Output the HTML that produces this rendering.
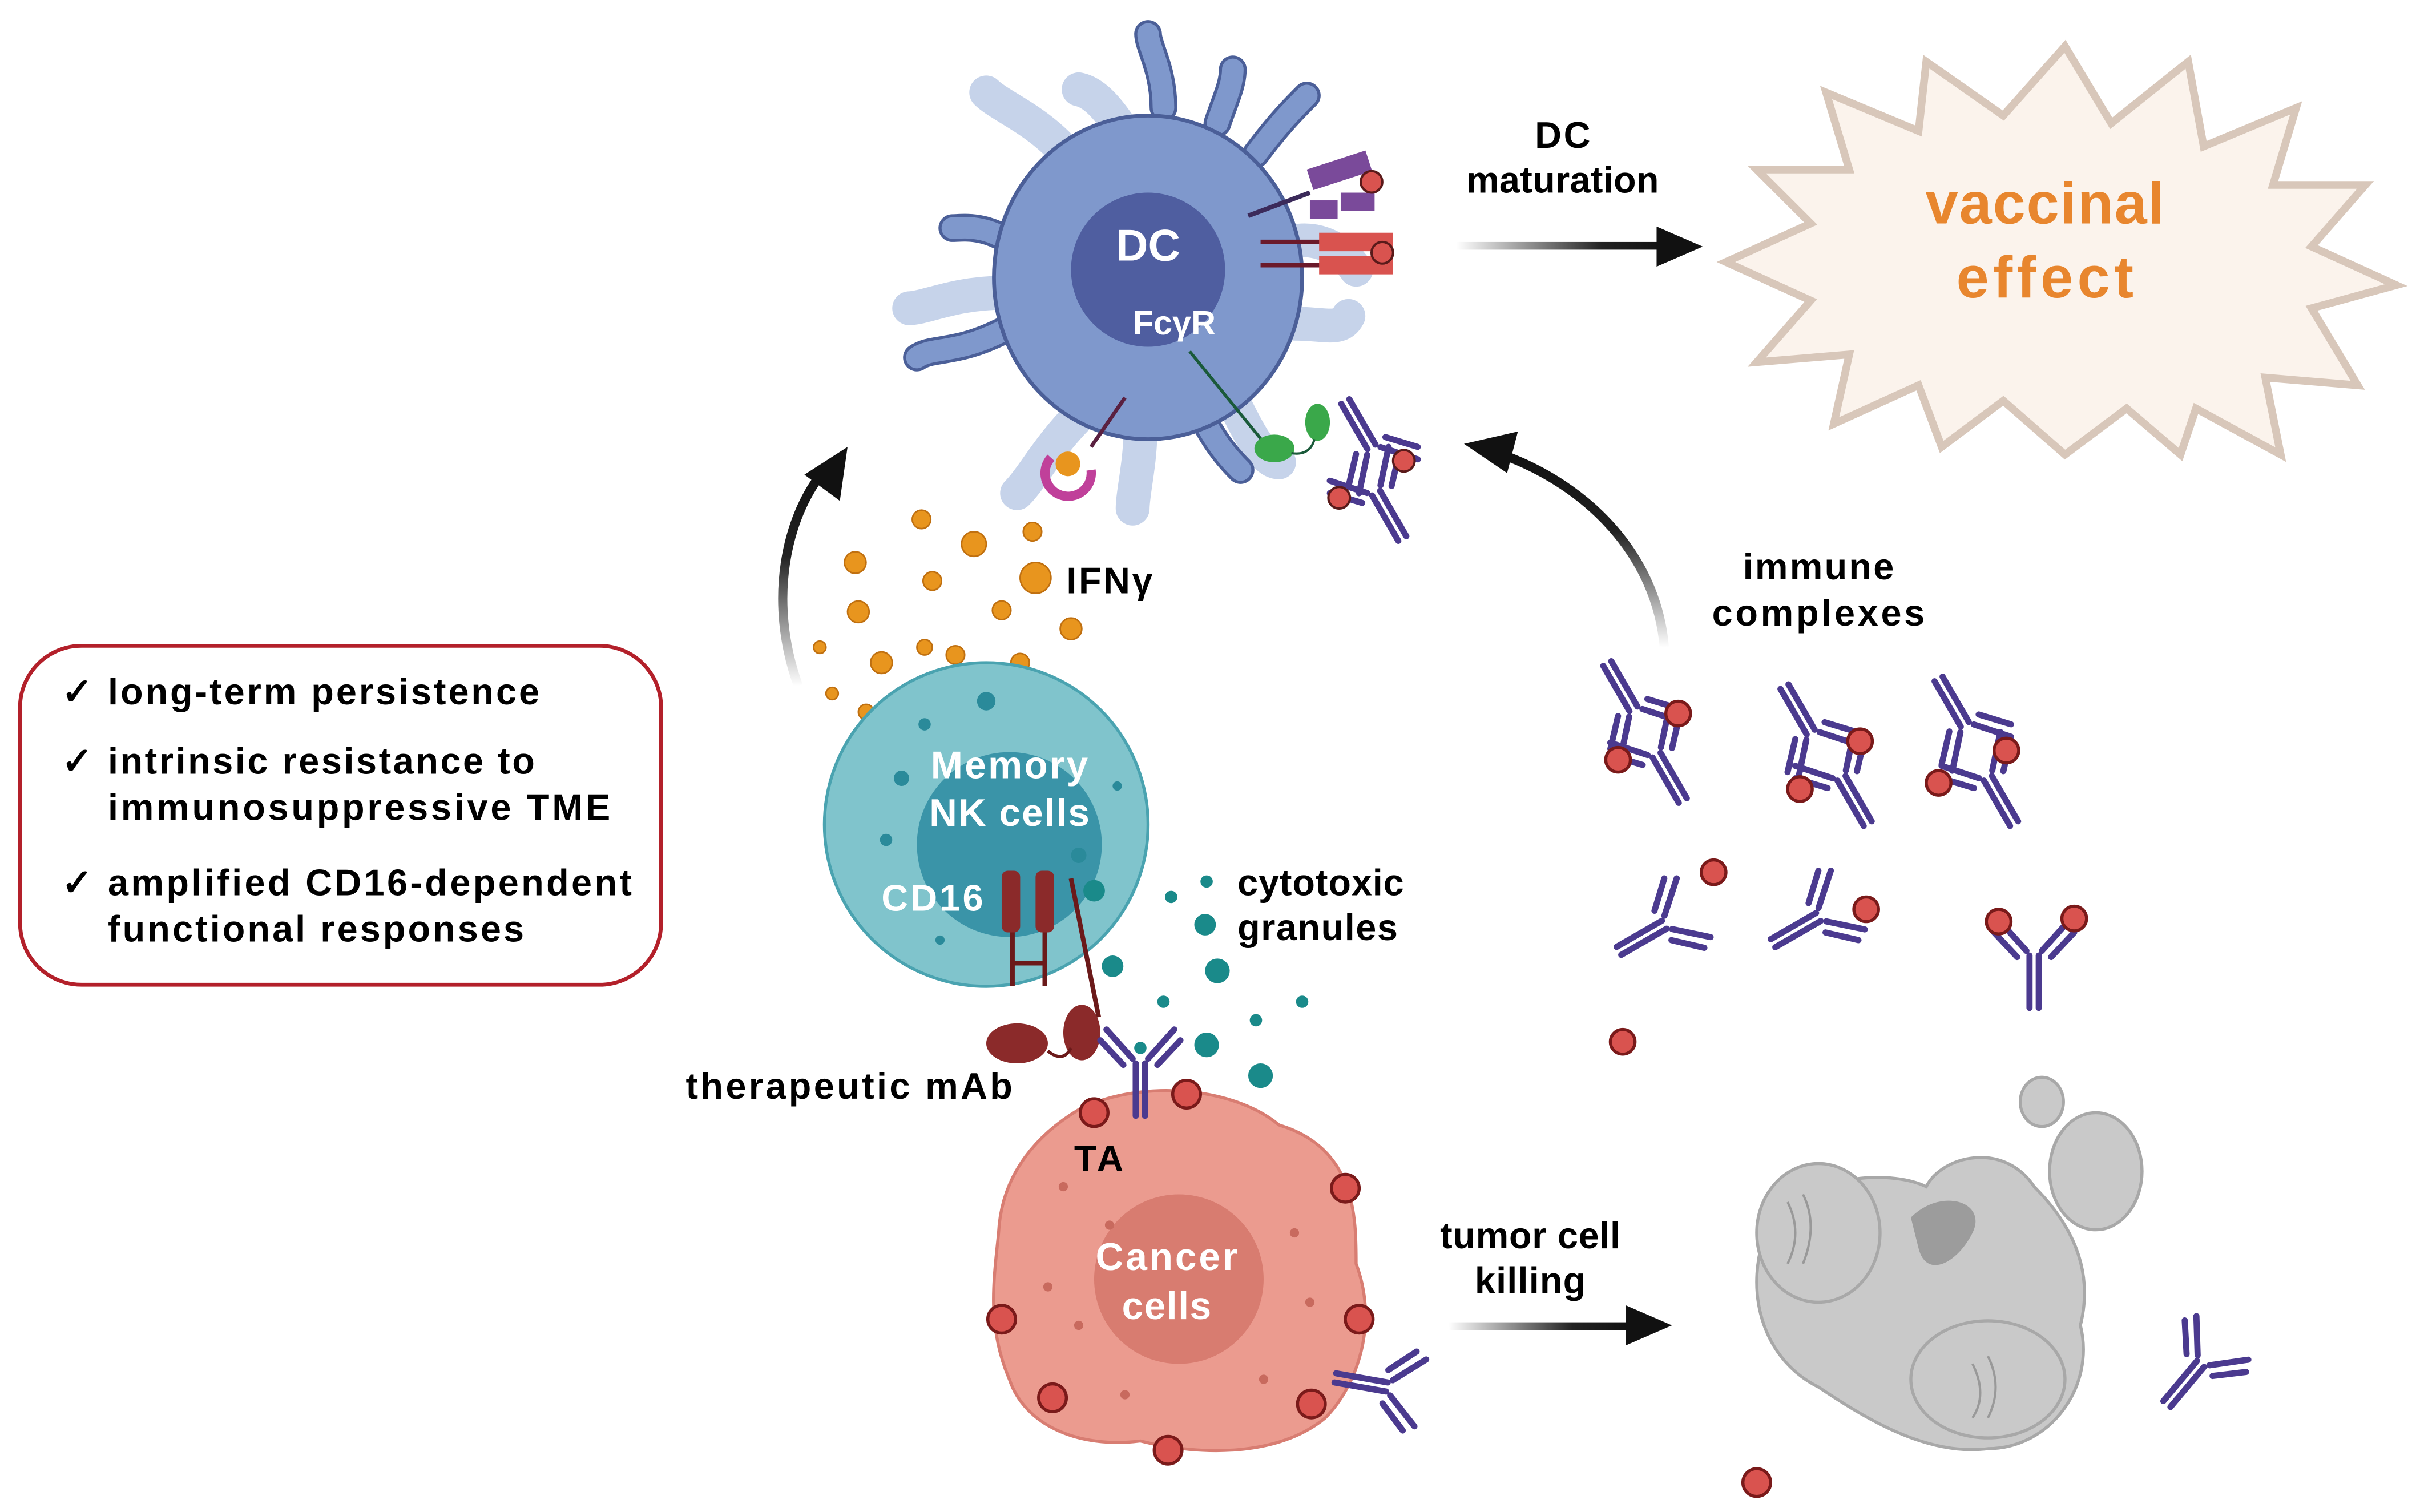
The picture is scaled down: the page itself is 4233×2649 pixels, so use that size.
<!DOCTYPE html>
<html><head><meta charset="utf-8"><style>
html,body{margin:0;padding:0;background:#fff}
svg{display:block}
text{font-family:"Liberation Sans",sans-serif;font-weight:bold}
</style></head><body>
<svg width="4233" height="2649" viewBox="0 0 1567.8 981.1" xmlns="http://www.w3.org/2000/svg">
<defs>
<linearGradient id="gr" x1="0" x2="1" y1="0" y2="0"><stop offset="0" stop-color="#fff"/><stop offset="0.7" stop-color="#222"/><stop offset="1" stop-color="#111"/></linearGradient>
<linearGradient id="gv" x1="0" x2="0" y1="1" y2="0"><stop offset="0" stop-color="#fff"/><stop offset="0.6" stop-color="#222"/><stop offset="1" stop-color="#111"/></linearGradient>
<g id="ab" fill="none" stroke="#4b3a8f" stroke-width="4" stroke-linecap="round">
<path d="M-3,0 V34 M3,0 V34 M-5,-3 L-22,-22 M-11,1 L-26,-15 M5,-3 L22,-22 M11,1 L26,-15"/>
</g>
</defs>

<g fill="none" stroke="#c6d3ea" stroke-width="22" stroke-linecap="round">
<path d="M700,110 C680,80 650,70 640,60"/>
<path d="M735,95 C720,70 710,60 700,58"/>
<path d="M650,190 C620,190 600,200 590,200"/>
<path d="M830,160 C850,150 870,160 880,175"/>
<path d="M840,210 C860,210 870,215 875,205"/>
<path d="M700,270 C680,290 670,310 660,320"/>
<path d="M740,280 C740,300 735,320 735,330"/>
<path d="M800,260 C810,280 820,300 830,300"/>
</g>
<g fill="#7f98cc" stroke="#4b5f98" stroke-width="2.5">
<g stroke-linecap="round" stroke-width="18" stroke="#4b5f98" fill="none">
<path d="M755,70 C755,45 745,30 745,22"/>
<path d="M790,80 C795,65 800,55 800,45"/>
<path d="M815,100 C830,80 840,70 848,62"/>
<path d="M650,215 C620,230 605,225 595,232"/>
<path d="M660,160 C640,145 625,148 618,148"/>
<path d="M780,270 C790,290 800,300 805,305"/>
</g>
<g stroke-linecap="round" stroke-width="14" stroke="#7f98cc" fill="none">
<path d="M755,70 C755,45 745,30 745,22"/>
<path d="M790,80 C795,65 800,55 800,45"/>
<path d="M815,100 C830,80 840,70 848,62"/>
<path d="M650,215 C620,230 605,225 595,232"/>
<path d="M660,160 C640,145 625,148 618,148"/>
<path d="M780,270 C790,290 800,300 805,305"/>
</g>
<ellipse cx="745" cy="180" rx="100" ry="105"/>
</g>
<circle cx="745" cy="175" r="50" fill="#4f5ea0"/>
<text x="745" y="169" font-size="29" fill="#fff" text-anchor="middle">DC</text>
<text x="762" y="217" font-size="22" fill="#fff" text-anchor="middle">FcγR</text>
<line x1="810" y1="140" x2="850" y2="125" stroke="#3b2a5a" stroke-width="3"/>
<rect x="848" y="110" width="40" height="14" fill="#7a4a9a" transform="rotate(-18 848 110)"/>
<rect x="850" y="130" width="18" height="12" fill="#7a4a9a"/><rect x="870" y="125" width="22" height="12" fill="#7a4a9a"/>
<circle cx="890" cy="118" r="7" fill="#d9534f" stroke="#5a1a1a" stroke-width="1.5"/>
<line x1="818" y1="157" x2="858" y2="157" stroke="#6b1a2a" stroke-width="3"/>
<line x1="818" y1="172" x2="858" y2="172" stroke="#6b1a2a" stroke-width="3"/>
<rect x="856" y="151" width="48" height="12" fill="#d9534f"/><rect x="856" y="166" width="48" height="12" fill="#d9534f"/>
<circle cx="897" cy="164" r="7" fill="#d9534f" stroke="#5a1a1a" stroke-width="1.5"/>
<line x1="730" y1="258" x2="708" y2="290" stroke="#5a2040" stroke-width="2.5"/>
<path d="M682,297 A15,15 0 1,0 708,305" fill="none" stroke="#c0409a" stroke-width="6"/>
<circle cx="693" cy="301" r="8" fill="#e8951e"/>
<line x1="772" y1="228" x2="820" y2="287" stroke="#1a5a3a" stroke-width="2"/>
<ellipse cx="827" cy="291" rx="13" ry="9" fill="#3aa84a"/>
<ellipse cx="855" cy="274" rx="8" ry="12" fill="#3aa84a"/>
<path d="M838,294 Q850,296 853,285" fill="none" stroke="#1a5a3a" stroke-width="1.5"/>
<use href="#ab" transform="translate(890,290) rotate(150)"/>
<use href="#ab" transform="translate(893,320) rotate(-30)"/>
<circle cx="911" cy="299" r="7" fill="#d9534f" stroke="#5a1a1a" stroke-width="1.5"/>
<circle cx="869" cy="323" r="7" fill="#d9534f" stroke="#5a1a1a" stroke-width="1.5"/>

<rect x="945" y="157" width="135" height="5" fill="url(#gr)"/>
<polygon points="1075,147 1105,160 1075,173" fill="#111"/>
<text x="1014" y="96" font-size="24" text-anchor="middle" textLength="36">DC</text>
<text x="1014" y="125" font-size="24" text-anchor="middle" textLength="125">maturation</text>

<polygon fill="#fbf3ec" stroke="#d8c7ba" stroke-width="5" points="1340,30 1370,80 1420,40 1430,95 1490,70 1475,120 1535,120 1500,160 1555,185 1500,200 1530,250 1470,245 1480,295 1425,265 1415,295 1380,265 1340,295 1300,260 1260,290 1245,250 1190,275 1200,230 1140,235 1175,195 1120,170 1175,145 1140,110 1200,110 1185,60 1245,85 1250,40 1300,75"/>
<text x="1327" y="145" font-size="38" fill="#e8862e" text-anchor="middle" textLength="155">vaccinal</text>
<text x="1327" y="193" font-size="38" fill="#e8862e" text-anchor="middle" textLength="115">effect</text>

<path d="M518,445 C498,390 510,335 535,305" fill="none" stroke="url(#gv)" stroke-width="6"/>
<polygon points="550,290 545,325 522,308" fill="#111"/>
<path d="M1080,420 C1075,360 1030,315 975,295" fill="none" stroke="url(#gv)" stroke-width="6"/>
<polygon points="950,288 985,280 978,307" fill="#111"/>

<g fill="#e8951e" stroke="#c07010" stroke-width="1">
<circle cx="598" cy="337" r="6"/><circle cx="632" cy="353" r="8"/><circle cx="670" cy="345" r="6"/>
<circle cx="555" cy="365" r="7"/><circle cx="605" cy="377" r="6"/><circle cx="672" cy="375" r="10"/>
<circle cx="557" cy="397" r="7"/><circle cx="650" cy="396" r="6"/><circle cx="695" cy="408" r="7"/>
<circle cx="532" cy="420" r="4"/><circle cx="600" cy="420" r="5"/><circle cx="620" cy="425" r="6"/>
<circle cx="572" cy="430" r="7"/><circle cx="662" cy="430" r="6"/><circle cx="540" cy="450" r="4"/>
<circle cx="610" cy="455" r="4"/><circle cx="562" cy="462" r="5"/>
</g>
<text x="692" y="385" font-size="24" textLength="56">IFNγ</text>

<circle cx="640" cy="535" r="105" fill="#80c4cc" stroke="#4aa3b0" stroke-width="2"/>
<circle cx="655" cy="548" r="60" fill="#3a94a8"/>
<g fill="#2a8a9a"><circle cx="585" cy="505" r="5"/><circle cx="600" cy="470" r="4"/><circle cx="640" cy="455" r="6"/><circle cx="575" cy="545" r="4"/><circle cx="700" cy="555" r="5"/><circle cx="725" cy="510" r="3"/><circle cx="610" cy="610" r="3"/></g>
<text x="655" y="505" font-size="25" fill="#fff" text-anchor="middle" textLength="102">Memory</text>
<text x="655" y="536" font-size="25" fill="#fff" text-anchor="middle" textLength="104">NK cells</text>
<text x="605" y="591" font-size="24" fill="#fff" text-anchor="middle" textLength="66">CD16</text>
<rect x="650" y="565" width="12" height="40" rx="4" fill="#8b2a2a"/><rect x="672" y="565" width="12" height="40" rx="4" fill="#8b2a2a"/>
<path d="M657,605 V640 M678,605 V640 M657,625 H678" stroke="#6b1a1a" stroke-width="3" fill="none"/>
<line x1="695" y1="570" x2="713" y2="660" stroke="#6b1a1a" stroke-width="3"/>
<ellipse cx="660" cy="677" rx="20" ry="13" fill="#8b2a2a"/>
<ellipse cx="702" cy="670" rx="12" ry="18" fill="#8b2a2a"/>
<path d="M680,682 Q690,690 695,680" stroke="#6b1a1a" stroke-width="2" fill="none"/>
<text x="445" y="713" font-size="24" textLength="212">therapeutic mAb</text>

<g fill="#1a8a8a"><circle cx="710" cy="578" r="7"/><circle cx="760" cy="582" r="4"/><circle cx="783" cy="572" r="4"/><circle cx="782" cy="600" r="7"/><circle cx="722" cy="627" r="7"/><circle cx="790" cy="630" r="8"/><circle cx="755" cy="650" r="4"/><circle cx="815" cy="662" r="4"/><circle cx="845" cy="650" r="4"/><circle cx="740" cy="680" r="4"/><circle cx="783" cy="678" r="8"/><circle cx="818" cy="698" r="8"/><circle cx="800" cy="720" r="4"/><circle cx="822" cy="742" r="8"/><circle cx="772" cy="748" r="4"/><circle cx="790" cy="748" r="4"/><circle cx="808" cy="770" r="7"/><circle cx="833" cy="772" r="4"/></g>
<text x="803" y="581" font-size="24" textLength="108">cytotoxic</text>
<text x="803" y="610" font-size="24" textLength="104">granules</text>

<path d="M700,720 C740,700 800,705 830,730 C880,745 880,790 880,820 C895,860 880,900 860,920 C830,945 780,945 740,935 C700,940 665,925 655,895 C640,860 645,830 648,800 C650,760 675,735 700,720 Z" fill="#eb9b8f" stroke="#d87d72" stroke-width="2"/>
<circle cx="765" cy="830" r="55" fill="#d87c70"/>
<g fill="#c86a5e"><circle cx="690" cy="770" r="3"/><circle cx="720" cy="795" r="3"/><circle cx="700" cy="860" r="3"/><circle cx="730" cy="905" r="3"/><circle cx="840" cy="800" r="3"/><circle cx="820" cy="895" r="3"/><circle cx="680" cy="835" r="3"/><circle cx="850" cy="845" r="3"/></g>
<text x="757" y="824" font-size="25" fill="#fff" text-anchor="middle" textLength="92">Cancer</text>
<text x="757" y="856" font-size="25" fill="#fff" text-anchor="middle" textLength="58">cells</text>
<g fill="#d9534f" stroke="#7a1a1a" stroke-width="2">
<circle cx="710" cy="722" r="9"/><circle cx="770" cy="710" r="9"/><circle cx="873" cy="771" r="9"/><circle cx="650" cy="856" r="9"/><circle cx="882" cy="856" r="9"/><circle cx="683" cy="907" r="9"/><circle cx="851" cy="911" r="9"/><circle cx="758" cy="941" r="9"/>
</g>
<use href="#ab" transform="translate(740,690) rotate(0)"/>
<use href="#ab" transform="translate(900,900) rotate(100)"/>
<text x="697" y="760" font-size="24" textLength="32">TA</text>

<rect x="940" y="858" width="115" height="5" fill="url(#gr)"/>
<polygon points="1055,847 1085,860 1055,873" fill="#111"/>
<text x="993" y="810" font-size="24" text-anchor="middle" textLength="117">tumor cell</text>
<text x="993" y="839" font-size="24" text-anchor="middle" textLength="72">killing</text>

<g fill="#c9c9c9" stroke="#a8a8a8" stroke-width="2">
<ellipse cx="1325" cy="715" rx="14" ry="16"/>
<ellipse cx="1360" cy="760" rx="30" ry="38"/>
<path d="M1150,790 C1180,760 1230,760 1250,770 C1260,750 1300,740 1320,770 C1340,790 1360,820 1350,860 C1360,900 1330,940 1290,940 C1250,945 1210,920 1180,900 C1140,880 1130,830 1150,790 Z"/>
<ellipse cx="1180" cy="800" rx="40" ry="45"/>
<ellipse cx="1290" cy="895" rx="50" ry="38"/>
</g>
<path d="M1240,790 C1260,770 1290,780 1280,800 C1270,820 1250,830 1245,810 Z" fill="#9c9c9c"/>
<g fill="none" stroke="#999" stroke-width="1.5"><path d="M1160,780 q10,20 0,40 M1170,775 q10,20 0,45 M1280,885 q10,20 0,35 M1290,880 q10,20 0,40"/></g>
<use href="#ab" transform="translate(1428,885) rotate(40)"/>
<circle cx="1140" cy="962" r="9" fill="#d9534f" stroke="#7a1a1a" stroke-width="2"/>

<text x="1180" y="376" font-size="24" text-anchor="middle" textLength="98">immune</text>
<text x="1180" y="406" font-size="24" text-anchor="middle" textLength="138">complexes</text>
<g>
<use href="#ab" transform="translate(1060,460) rotate(150)"/><use href="#ab" transform="translate(1075,490) rotate(-30)"/>
<use href="#ab" transform="translate(1175,475) rotate(150)"/><use href="#ab" transform="translate(1195,505) rotate(-30)"/>
<use href="#ab" transform="translate(1275,470) rotate(150)"/><use href="#ab" transform="translate(1290,505) rotate(-30)"/>
<use href="#ab" transform="translate(1080,600) rotate(60)"/>
<use href="#ab" transform="translate(1180,595) rotate(60)"/>
<use href="#ab" transform="translate(1320,620) rotate(0)"/>
</g>
<g fill="#d9534f" stroke="#7a1a1a" stroke-width="2">
<circle cx="1089" cy="463" r="8"/><circle cx="1050" cy="493" r="8"/>
<circle cx="1207" cy="481" r="8"/><circle cx="1168" cy="512" r="8"/>
<circle cx="1302" cy="487" r="8"/><circle cx="1258" cy="508" r="8"/>
<circle cx="1112" cy="566" r="8"/><circle cx="1211" cy="590" r="8"/><circle cx="1297" cy="598" r="8"/><circle cx="1346" cy="596" r="8"/><circle cx="1053" cy="676" r="8"/>
</g>

<rect x="13" y="419" width="416" height="220" rx="40" fill="#fff" stroke="#b3202a" stroke-width="2.5"/>
<g font-size="24">
<text x="40" y="457">✓</text><text x="70" y="457" textLength="280">long-term persistence</text>
<text x="40" y="502">✓</text><text x="70" y="502" textLength="277">intrinsic resistance to</text>
<text x="70" y="532" textLength="326">immunosuppressive TME</text>
<text x="40" y="581">✓</text><text x="70" y="581" textLength="340">amplified CD16-dependent</text>
<text x="70" y="611" textLength="270">functional responses</text>
</g>
</svg>
</body></html>
